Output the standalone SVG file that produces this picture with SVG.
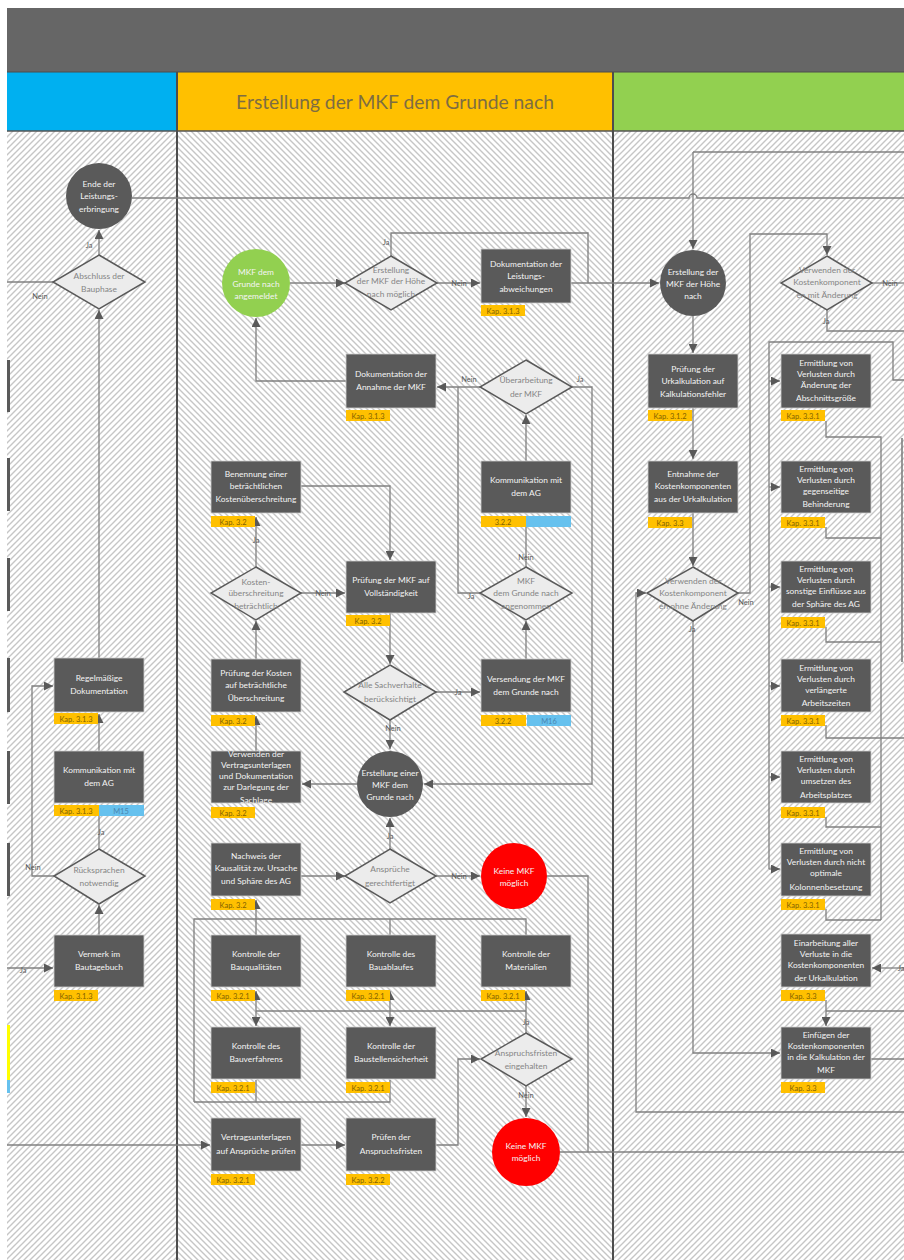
<svg xmlns="http://www.w3.org/2000/svg" width="904" height="1260" viewBox="0 0 904 1260">
<defs>
<style>
text{font-family:Lato,"Liberation Sans",sans-serif}
.bx{fill:#5a5a5a;stroke:#cfcfcf;stroke-width:0.8}
.bt{fill:#f4f4f4;font-size:8.4px;text-anchor:middle}
.dm{fill:#ececec;stroke:#5a5a5a;stroke-width:1.5}
.dt{fill:#858585;font-size:8.4px;text-anchor:middle}
.ci{fill:#5a5a5a}
.cg{fill:#92d050}
.cr{fill:#ff0000}
.ty{fill:#ffc000}
.tb{fill:#66c1ee}
.tt{fill:#806000;font-size:7.5px;text-anchor:middle}
.tbt{fill:#4a86b0;font-size:7.5px;text-anchor:middle}
.cn{fill:none;stroke:#808080;stroke-width:1.3}
.ca{fill:none;stroke:#808080;stroke-width:1.3;marker-end:url(#ah)}
.lb{fill:#5a5a5a;font-size:7.5px;text-anchor:middle}
.lane{stroke:#4d4d4d;stroke-width:2}
.hs{stroke:#c6c6c6;stroke-width:1.4;fill:none}
</style>
<marker id="ah" viewBox="0 0 10 10" refX="10" refY="5" markerWidth="9" markerHeight="9" markerUnits="userSpaceOnUse" orient="auto">
<path d="M0,0 L10,5 L0,10 z" fill="#595959"/>
</marker>
<pattern id="hr" width="6" height="6" patternUnits="userSpaceOnUse">
<rect width="6" height="6" fill="#ffffff"/>
<path class="hs" d="M-1,7 L7,-1 M-1,1 L1,-1 M5,7 L7,5"/>
</pattern>
<pattern id="hl" width="6" height="6" patternUnits="userSpaceOnUse">
<rect width="6" height="6" fill="#ffffff"/>
<path class="hs" d="M-1,-1 L7,7 M-1,5 L1,7 M5,-1 L7,1"/>
</pattern>
</defs>

<!-- page and lanes -->
<rect width="904" height="1260" fill="#ffffff"/>
<rect x="7" y="8" width="897" height="64" fill="#666666"/>
<rect x="7" y="72" width="170" height="59" fill="#00b0f0"/>
<rect x="177" y="72" width="436" height="59" fill="#ffc000"/>
<rect x="613" y="72" width="291" height="59" fill="#92d050"/>
<text x="395" y="109" font-size="19.3" fill="#7e6d42" text-anchor="middle">Erstellung der MKF dem Grunde nach</text>
<rect x="7" y="131" width="170" height="1129" fill="url(#hr)"/>
<rect x="177" y="131" width="436" height="1129" fill="url(#hl)"/>
<rect x="613" y="131" width="291" height="1129" fill="url(#hr)"/>
<line x1="7" y1="72" x2="904" y2="72" stroke="#4d4d4d" stroke-width="1"/>
<line x1="7" y1="131" x2="904" y2="131" stroke="#555" stroke-width="1.5"/>
<line class="lane" x1="177" y1="72" x2="177" y2="1260"/>
<line class="lane" x1="613" y1="72" x2="613" y2="1260"/>

<!-- clipped edges of shapes from the neighbouring lanes -->
<g id="edge-marks" fill="#5a5a5a">
<rect x="7" y="360" width="3" height="52"/>
<rect x="7" y="458" width="3" height="53"/>
<rect x="7" y="558" width="3" height="53"/>
<rect x="7" y="658" width="3" height="54"/>
<rect x="7" y="751" width="3" height="53"/>
<rect x="7" y="843" width="3" height="53"/>
<rect x="7" y="1025" width="3" height="55" fill="#ffff00"/>
<rect x="7" y="1080" width="3" height="13" fill="#66c1ee"/>
<line x1="902" y1="438" x2="902" y2="662" stroke="#7f7f7f" stroke-width="1.6"/>
</g>

<!-- connectors -->
<g id="connectors">
<path class="cn" d="M132,198 H689 a4,4 0 0 1 8,0 H904"/>
<path class="ca" d="M99,255 V230"/>
<path class="cn" d="M53,282 H7"/>
<path class="ca" d="M99,658 V310"/>
<path class="ca" d="M99,751 V714"/>
<path class="ca" d="M99,849 V806"/>
<path class="ca" d="M54,876 H32 V686 H53"/>
<path class="ca" d="M99,935 V905"/>
<path class="ca" d="M7,968 H53"/>
<path class="ca" d="M7,1145 H210"/>

<path class="ca" d="M290,283 H345"/>
<path class="ca" d="M437,283 H480"/>
<path class="cn" d="M391,256 V233 H588 V283"/>
<path class="ca" d="M571,283 H659"/>
<path class="ca" d="M346,381 H256 V318"/>
<path class="ca" d="M480,387 H437"/>
<path class="ca" d="M572,387 H592 V784 H424"/>
<path class="ca" d="M526,461 V415"/>
<path class="ca" d="M301,486 H390 V560"/>
<path class="ca" d="M526,567 V517"/>
<path class="ca" d="M256,567 V517"/>
<path class="ca" d="M301,593 H345"/>
<path class="ca" d="M390,613 V664"/>
<path class="cn" d="M480,593 H458 V387"/>
<path class="ca" d="M526,659 V621"/>
<path class="ca" d="M256,659 V621"/>
<path class="ca" d="M436,692 H480"/>
<path class="ca" d="M390,720 V749"/>
<path class="ca" d="M256,751 V716"/>
<path class="ca" d="M357,784 H302"/>
<path class="ca" d="M390,849 V818"/>
<path class="ca" d="M301,876 H345"/>
<path class="ca" d="M436,876 H480"/>
<path class="cn" d="M547,876 H588 V1152"/>
<path class="ca" d="M256,935 V900"/>
<path class="cn" d="M194,1102 V919 H526 V935 M390,919 V935 M194,1102 H390 V1080 M256,1080 V1102"/>
<path class="cn" d="M526,1011 H256"/>
<path class="ca" d="M256,1011 V991"/>
<path class="ca" d="M256,1011 V1026"/>
<path class="ca" d="M390,1011 V991"/>
<path class="ca" d="M390,1011 V1026"/>
<path class="ca" d="M526,1033 V991"/>
<path class="ca" d="M526,1086 V1117"/>
<path class="cn" d="M560,1152 H904"/>
<path class="ca" d="M301,1145 H345"/>
<path class="ca" d="M436,1145 H458 V1059 H480"/>

<path class="cn" d="M693,152 H904"/>
<path class="ca" d="M693,152 V249"/>
<path class="ca" d="M693,316 V353"/>
<path class="ca" d="M693,408 V459"/>
<path class="ca" d="M693,513 V566"/>
<path class="ca" d="M738,593 H750 V234 H827 V255"/>
<path class="ca" d="M693,621 V1053 H780"/>
<path class="ca" d="M904,1112 H636 V593 H646"/>
<path class="cn" d="M872,283 H904"/>
<path class="cn" d="M827,310 V331 H904"/>
<path class="cn" d="M904,380 H893 V342 H769 V869"/>
<path class="ca" d="M769,381 H780"/>
<path class="ca" d="M769,487 H780"/>
<path class="ca" d="M769,587 H780"/>
<path class="ca" d="M769,686 H780"/>
<path class="ca" d="M769,777 H780"/>
<path class="ca" d="M769,869 H780"/>
<path class="cn" d="M826,421 V437 H881 V920 M826,527 V538 H881 M826,627 V642 H881 M826,725 V738 H904 M826,817 V827 H881 M826,909 V920 H881"/>
<path class="ca" d="M904,968 H872"/>
<path class="ca" d="M826,1000 V1026"/>
<path class="cn" d="M904,1011 H826"/>
<path class="cn" d="M871,1059 H904"/>

<text class="lb" x="89" y="248">Ja</text>
<text class="lb" x="40" y="299">Nein</text>
<text class="lb" x="101" y="835">Ja</text>
<text class="lb" x="33" y="870">Nein</text>
<text class="lb" x="23" y="973">Ja</text>
<text class="lb" x="386" y="245">Ja</text>
<text class="lb" x="459" y="286">Nein</text>
<text class="lb" x="469" y="382">Nein</text>
<text class="lb" x="580" y="382">Ja</text>
<text class="lb" x="526" y="560">Nein</text>
<text class="lb" x="256" y="543">Ja</text>
<text class="lb" x="323" y="596">Nein</text>
<text class="lb" x="471" y="599">Ja</text>
<text class="lb" x="458" y="695">Ja</text>
<text class="lb" x="393" y="731">Nein</text>
<text class="lb" x="390" y="839">Ja</text>
<text class="lb" x="459" y="879">Nein</text>
<text class="lb" x="526" y="1025">Ja</text>
<text class="lb" x="526" y="1098">Nein</text>
<text class="lb" x="890" y="286">Nein</text>
<text class="lb" x="826" y="324">Ja</text>
<text class="lb" x="746" y="605">Nein</text>
<text class="lb" x="692" y="632">Ja</text>
<text class="lb" x="901" y="971">Ja</text>
</g>

<!-- lane 1 -->
<g id="ende-leistung"><circle class="ci" cx="99" cy="196" r="33"/>
<text class="bt" x="99" y="187">Ende der</text><text class="bt" x="99" y="199">Leistungs-</text><text class="bt" x="99" y="212">erbringung</text></g>
<g id="abschluss-bauphase"><polygon class="dm" points="99,255 145,282 99,309 53,282"/>
<text class="dt" x="99" y="279">Abschluss der</text><text class="dt" x="99" y="292">Bauphase</text></g>
<g id="regelmaessige-doku"><rect class="bx" x="54" y="658" width="90" height="54"/>
<text class="bt" x="99" y="681">Regelmäßige</text><text class="bt" x="99" y="694">Dokumentation</text>
<rect class="ty" x="54" y="713" width="44" height="11"/><text class="tt" x="76" y="721.5">Kap. 3.1.3</text></g>
<g id="kommunikation-ag-1"><rect class="bx" x="54" y="751" width="90" height="52"/>
<text class="bt" x="99" y="773">Kommunikation mit</text><text class="bt" x="99" y="786">dem AG</text>
<rect class="ty" x="54" y="805" width="45" height="11"/><text class="tt" x="76" y="813.5">Kap. 3.1.3</text>
<rect class="tb" x="99" y="805" width="45" height="11"/><text class="tbt" x="121" y="813.5">M15</text></g>
<g id="ruecksprachen"><polygon class="dm" points="99,849 145,876 99,904 54,876"/>
<text class="dt" x="99" y="873">Rücksprachen</text><text class="dt" x="99" y="886">notwendig</text></g>
<g id="vermerk-bautagebuch"><rect class="bx" x="54" y="935" width="90" height="52"/>
<text class="bt" x="99" y="957">Vermerk im</text><text class="bt" x="99" y="970">Bautagebuch</text>
<rect class="ty" x="54" y="990" width="44" height="11"/><text class="tt" x="76" y="998.5">Kap. 3.1.3</text></g>

<!-- lane 2 -->
<g id="mkf-angemeldet"><circle class="cg" cx="256" cy="283" r="34"/>
<text class="bt" x="256" y="275">MKF dem</text><text class="bt" x="256" y="287">Grunde nach</text><text class="bt" x="256" y="299">angemeldet</text></g>
<g id="erstellung-hoehe-moeglich"><polygon class="dm" points="391,256 437,283 391,310 345,283"/>
<text class="dt" x="391" y="273">Erstellung</text><text class="dt" x="391" y="284">der MKF der Höhe</text><text class="dt" x="391" y="297">nach möglich</text></g>
<g id="doku-leistungsabweichungen"><rect class="bx" x="481" y="249" width="90" height="54"/>
<text class="bt" x="526" y="267">Dokumentation der</text><text class="bt" x="526" y="279">Leistungs-</text><text class="bt" x="526" y="292">abweichungen</text>
<rect class="ty" x="481" y="305" width="44" height="11"/><text class="tt" x="503" y="313.5">Kap. 3.1.3</text></g>
<g id="doku-annahme"><rect class="bx" x="346" y="354" width="90" height="54"/>
<text class="bt" x="391" y="377">Dokumentation der</text><text class="bt" x="391" y="390">Annahme der MKF</text>
<rect class="ty" x="346" y="410" width="44" height="11"/><text class="tt" x="368" y="418.5">Kap. 3.1.3</text></g>
<g id="ueberarbeitung"><polygon class="dm" points="526,360 572,387 526,414 480,387"/>
<text class="dt" x="526" y="383">Überarbeitung</text><text class="dt" x="526" y="397">der MKF</text></g>
<g id="benennung"><rect class="bx" x="211" y="461" width="90" height="52"/>
<text class="bt" x="256" y="477">Benennung einer</text><text class="bt" x="256" y="489">beträchtlichen</text><text class="bt" x="256" y="502">Kostenüberschreitung</text>
<rect class="ty" x="211" y="516" width="44" height="11"/><text class="tt" x="233" y="524.5">Kap. 3.2</text></g>
<g id="kommunikation-ag-2"><rect class="bx" x="481" y="461" width="90" height="52"/>
<text class="bt" x="526" y="483">Kommunikation mit</text><text class="bt" x="526" y="496">dem AG</text>
<rect class="ty" x="481" y="516" width="45" height="11"/><text class="tt" x="503" y="524.5">3.2.2</text>
<rect class="tb" x="526" y="516" width="45" height="11"/></g>
<g id="kosten-ueberschreitung"><polygon class="dm" points="256,567 301,593 256,620 211,593"/>
<text class="dt" x="256" y="585">Kosten-</text><text class="dt" x="256" y="596">überschreitung</text><text class="dt" x="256" y="609">beträchtlich</text></g>
<g id="pruefung-vollstaendigkeit"><rect class="bx" x="346" y="561" width="90" height="52"/>
<text class="bt" x="391" y="583">Prüfung der MKF auf</text><text class="bt" x="391" y="596">Vollständigkeit</text>
<rect class="ty" x="346" y="615" width="44" height="11"/><text class="tt" x="368" y="623.5">Kap. 3.2</text></g>
<g id="mkf-angenommen"><polygon class="dm" points="526,567 572,593 526,620 480,593"/>
<text class="dt" x="526" y="584">MKF</text><text class="dt" x="526" y="596">dem Grunde nach</text><text class="dt" x="526" y="609">angenommen</text></g>
<g id="pruefung-kosten"><rect class="bx" x="211" y="659" width="90" height="53"/>
<text class="bt" x="256" y="676">Prüfung der Kosten</text><text class="bt" x="256" y="688">auf beträchtliche</text><text class="bt" x="256" y="701">Überschreitung</text>
<rect class="ty" x="211" y="715" width="44" height="11"/><text class="tt" x="233" y="723.5">Kap. 3.2</text></g>
<g id="alle-sachverhalte"><polygon class="dm" points="390,665 436,692 390,720 344,692"/>
<text class="dt" x="390" y="688">Alle Sachverhalte</text><text class="dt" x="390" y="702">berücksichtigt</text></g>
<g id="versendung"><rect class="bx" x="481" y="659" width="90" height="53"/>
<text class="bt" x="526" y="682">Versendung der MKF</text><text class="bt" x="526" y="695">dem Grunde nach</text>
<rect class="ty" x="481" y="715" width="45" height="11"/><text class="tt" x="503" y="723.5">3.2.2</text>
<rect class="tb" x="527" y="715" width="44" height="11"/><text class="tbt" x="549" y="723.5">M16</text></g>
<g id="verwenden-vertragsunterlagen"><rect class="bx" x="211" y="751" width="90" height="52"/>
<text class="bt" x="256" y="757">Verwenden der</text><text class="bt" x="256" y="768">Vertragsunterlagen</text><text class="bt" x="256" y="779">und Dokumentation</text><text class="bt" x="256" y="790">zur Darlegung der</text><text class="bt" x="256" y="803">Sachlage</text>
<rect class="ty" x="211" y="807" width="44" height="11"/><text class="tt" x="233" y="815.5">Kap. 3.2</text></g>
<g id="erstellung-grunde"><circle class="ci" cx="390" cy="784" r="33"/>
<text class="bt" x="390" y="776">Erstellung einer</text><text class="bt" x="390" y="788">MKF dem</text><text class="bt" x="390" y="800">Grunde nach</text></g>
<g id="nachweis-kausalitaet"><rect class="bx" x="211" y="843" width="90" height="53"/>
<text class="bt" x="256" y="859">Nachweis der</text><text class="bt" x="256" y="871">Kausalität zw. Ursache</text><text class="bt" x="256" y="884">und Sphäre des  AG</text>
<rect class="ty" x="211" y="899" width="44" height="11"/><text class="tt" x="233" y="907.5">Kap. 3.2</text></g>
<g id="ansprueche-gerechtfertigt"><polygon class="dm" points="390,849 436,876 390,903 345,876"/>
<text class="dt" x="390" y="872">Ansprüche</text><text class="dt" x="390" y="886">gerechtfertigt</text></g>
<g id="keine-mkf-1"><circle class="cr" cx="514" cy="876" r="33"/>
<text class="bt" x="514" y="874">Keine MKF</text><text class="bt" x="514" y="886">möglich</text></g>
<g id="kontrolle-bauqualitaeten"><rect class="bx" x="211" y="935" width="90" height="52"/>
<text class="bt" x="256" y="957">Kontrolle der</text><text class="bt" x="256" y="970">Bauqualitäten</text>
<rect class="ty" x="211" y="990" width="44" height="11"/><text class="tt" x="233" y="998.5">Kap. 3.2.1</text></g>
<g id="kontrolle-bauablauf"><rect class="bx" x="346" y="935" width="90" height="52"/>
<text class="bt" x="391" y="957">Kontrolle des</text><text class="bt" x="391" y="970">Bauablaufes</text>
<rect class="ty" x="346" y="990" width="44" height="11"/><text class="tt" x="368" y="998.5">Kap. 3.2.1</text></g>
<g id="kontrolle-materialien"><rect class="bx" x="481" y="935" width="90" height="52"/>
<text class="bt" x="526" y="957">Kontrolle der</text><text class="bt" x="526" y="970">Materialien</text>
<rect class="ty" x="481" y="990" width="44" height="11"/><text class="tt" x="503" y="998.5">Kap. 3.2.1</text></g>
<g id="kontrolle-bauverfahren"><rect class="bx" x="211" y="1027" width="90" height="52"/>
<text class="bt" x="256" y="1049">Kontrolle des</text><text class="bt" x="256" y="1062">Bauverfahrens</text>
<rect class="ty" x="211" y="1082" width="44" height="11"/><text class="tt" x="233" y="1090.5">Kap. 3.2.1</text></g>
<g id="kontrolle-baustellensicherheit"><rect class="bx" x="346" y="1027" width="90" height="52"/>
<text class="bt" x="391" y="1049">Kontrolle der</text><text class="bt" x="391" y="1062">Baustellensicherheit</text>
<rect class="ty" x="346" y="1082" width="44" height="11"/><text class="tt" x="368" y="1090.5">Kap. 3.2.1</text></g>
<g id="anspruchsfristen-eingehalten"><polygon class="dm" points="526,1033 572,1059 526,1086 481,1059"/>
<text class="dt" x="526" y="1056">Anspruchsfristen</text><text class="dt" x="526" y="1069">eingehalten</text></g>
<g id="keine-mkf-2"><circle class="cr" cx="526" cy="1152" r="34"/>
<text class="bt" x="526" y="1149">Keine MKF</text><text class="bt" x="526" y="1161">möglich</text></g>
<g id="vertragsunterlagen-pruefen"><rect class="bx" x="211" y="1118" width="90" height="53"/>
<text class="bt" x="256" y="1140">Vertragsunterlagen</text><text class="bt" x="256" y="1154">auf Ansprüche prüfen</text>
<rect class="ty" x="211" y="1174" width="44" height="11"/><text class="tt" x="233" y="1182.5">Kap. 3.2.1</text></g>
<g id="pruefen-anspruchsfristen"><rect class="bx" x="346" y="1118" width="90" height="53"/>
<text class="bt" x="391" y="1140">Prüfen der</text><text class="bt" x="391" y="1154">Anspruchsfristen</text>
<rect class="ty" x="346" y="1174" width="44" height="11"/><text class="tt" x="368" y="1182.5">Kap. 3.2.2</text></g>

<!-- lane 3 -->
<g id="erstellung-hoehe"><circle class="ci" cx="693" cy="283" r="33"/>
<text class="bt" x="693" y="275">Erstellung der</text><text class="bt" x="693" y="287">MKF der Höhe</text><text class="bt" x="693" y="299">nach</text></g>
<g id="pruefung-urkalkulation"><rect class="bx" x="648" y="354" width="90" height="54"/>
<text class="bt" x="693" y="372">Prüfung der</text><text class="bt" x="693" y="384">Urkalkulation auf</text><text class="bt" x="693" y="397">Kalkulationsfehler</text>
<rect class="ty" x="648" y="410" width="44" height="11"/><text class="tt" x="670" y="418.5">Kap. 3.1.2</text></g>
<g id="entnahme"><rect class="bx" x="648" y="461" width="90" height="52"/>
<text class="bt" x="693" y="477">Entnahme der</text><text class="bt" x="693" y="489">Kostenkomponenten</text><text class="bt" x="693" y="502">aus der Urkalkulation</text>
<rect class="ty" x="648" y="517" width="44" height="11"/><text class="tt" x="670" y="525.5">Kap. 3.3</text></g>
<g id="ohne-aenderung"><polygon class="dm" points="693,567 738,593 693,621 647,593"/>
<text class="dt" x="693" y="584">Verwenden der</text><text class="dt" x="693" y="596">Kostenkomponent</text><text class="dt" x="693" y="609">en ohne Änderung</text></g>
<g id="mit-aenderung"><polygon class="dm" points="827,256 872,283 827,310 781,283"/>
<text class="dt" x="827" y="273">Verwenden der</text><text class="dt" x="827" y="285">Kostenkomponent</text><text class="dt" x="827" y="298">en mit Änderung</text></g>
<g id="verluste-abschnitt"><rect class="bx" x="781" y="354" width="90" height="54"/>
<text class="bt" x="826" y="366">Ermittlung von</text><text class="bt" x="826" y="377">Verlusten durch</text><text class="bt" x="826" y="388">Änderung der</text><text class="bt" x="826" y="401">Abschnittsgröße</text>
<rect class="ty" x="781" y="410" width="44" height="11"/><text class="tt" x="803" y="418.5">Kap. 3.3.1</text></g>
<g id="verluste-behinderung"><rect class="bx" x="781" y="461" width="90" height="52"/>
<text class="bt" x="826" y="472">Ermittlung von</text><text class="bt" x="826" y="483">Verlusten durch</text><text class="bt" x="826" y="494">gegenseitige</text><text class="bt" x="826" y="507">Behinderung</text>
<rect class="ty" x="781" y="517" width="44" height="11"/><text class="tt" x="803" y="525.5">Kap. 3.3.1</text></g>
<g id="verluste-sphaere"><rect class="bx" x="781" y="561" width="90" height="52"/>
<text class="bt" x="826" y="572">Ermittlung von</text><text class="bt" x="826" y="583">Verlusten durch</text><text class="bt" x="826" y="594">sonstige Einflüsse aus</text><text class="bt" x="826" y="607">der Sphäre des AG</text>
<rect class="ty" x="781" y="617" width="44" height="11"/><text class="tt" x="803" y="625.5">Kap. 3.3.1</text></g>
<g id="verluste-arbeitszeiten"><rect class="bx" x="781" y="659" width="90" height="53"/>
<text class="bt" x="826" y="671">Ermittlung von</text><text class="bt" x="826" y="682">Verlusten durch</text><text class="bt" x="826" y="693">verlängerte</text><text class="bt" x="826" y="706">Arbeitszeiten</text>
<rect class="ty" x="781" y="715" width="44" height="11"/><text class="tt" x="803" y="723.5">Kap. 3.3.1</text></g>
<g id="verluste-arbeitsplatz"><rect class="bx" x="781" y="751" width="90" height="52"/>
<text class="bt" x="826" y="762">Ermittlung von</text><text class="bt" x="826" y="773">Verlusten durch</text><text class="bt" x="826" y="784">umsetzen des</text><text class="bt" x="826" y="798">Arbeitsplatzes</text>
<rect class="ty" x="781" y="807" width="44" height="11"/><text class="tt" x="803" y="815.5">Kap. 3.3.1</text></g>
<g id="verluste-kolonne"><rect class="bx" x="781" y="843" width="90" height="53"/>
<text class="bt" x="826" y="854">Ermittlung von</text><text class="bt" x="826" y="865">Verlusten durch nicht</text><text class="bt" x="826" y="876">optimale</text><text class="bt" x="826" y="890">Kolonnenbesetzung</text>
<rect class="ty" x="781" y="899" width="44" height="11"/><text class="tt" x="803" y="907.5">Kap. 3.3.1</text></g>
<g id="einarbeitung"><rect class="bx" x="781" y="934" width="90" height="53"/>
<text class="bt" x="826" y="946">Einarbeitung aller</text><text class="bt" x="826" y="957">Verluste in die</text><text class="bt" x="826" y="968">Kostenkomponenten</text><text class="bt" x="826" y="981">der Urkalkulation</text>
<rect class="ty" x="781" y="990" width="44" height="11"/><text class="tt" x="803" y="998.5">Kap. 3.3</text></g>
<g id="einfuegen"><rect class="bx" x="781" y="1027" width="90" height="52"/>
<text class="bt" x="826" y="1038">Einfügen der</text><text class="bt" x="826" y="1049">Kostenkomponenten</text><text class="bt" x="826" y="1060">in die Kalkulation der</text><text class="bt" x="826" y="1073">MKF</text>
<rect class="ty" x="781" y="1082" width="44" height="11"/><text class="tt" x="803" y="1090.5">Kap. 3.3</text></g>
</svg>
